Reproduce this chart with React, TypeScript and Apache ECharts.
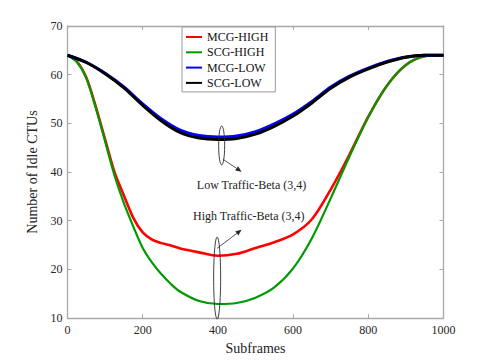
import React, { useEffect, useRef } from "react";
import * as echarts from "echarts";

// Subframe positions
const xsHigh = [0, 25, 50, 75, 100, 125, 150, 175, 200, 225, 250, 275, 300, 350, 400, 450, 500, 550, 600, 650, 700, 750, 800, 850, 900, 950, 1000];
const xsLow = [0, 50, 100, 150, 200, 250, 300, 350, 400, 450, 500, 550, 600, 650, 700, 750, 800, 850, 900, 950, 1000];

// Number of idle CTUs
const mcgHigh = [64.0, 62.7, 59.4, 53.5, 46.7, 40.0, 35.2, 30.6, 27.6, 26.1, 25.4, 24.9, 24.3, 23.5, 22.8, 23.2, 24.4, 25.6, 27.2, 30.3, 36.4, 43.6, 51.4, 57.8, 62.0, 63.8, 64.0];
const scgHigh = [64.0, 62.6, 59.3, 53.2, 46.3, 39.3, 33.6, 28.8, 24.4, 21.4, 19.0, 17.0, 15.4, 13.5, 12.9, 13.1, 14.2, 16.3, 20.2, 26.4, 34.6, 43.2, 51.3, 57.8, 62.0, 63.8, 64.0];
const mcgLow = [64.0, 62.55, 60.3, 57.5, 54.0, 50.9, 48.6, 47.5, 47.2, 47.4, 48.3, 49.9, 51.9, 54.5, 57.45, 59.7, 61.35, 62.7, 63.65, 64.0, 64.0];
const scgLow = [64.0, 62.5, 60.2, 57.3, 53.7, 50.5, 48.1, 47.0, 46.7, 46.9, 47.8, 49.4, 51.5, 54.2, 57.2, 59.5, 61.2, 62.6, 63.6, 64.0, 64.0];

const seriesNames = ["MCG-HIGH", "SCG-HIGH", "MCG-LOW", "SCG-LOW"];
const seriesColors = ["#ff0000", "#009a00", "#0000ff", "#000000"];

const lowLabel = "Low Traffic-Beta (3,4)";
const highLabel = "High Traffic-Beta (3,4)";

const FONT = "Liberation Serif";
const AX = "#a8a8a8";

const W = 485;
const H = 360;
const G = { left: 67.5, right: 41.5, top: 26, bottom: 41.5 };
const X_MIN = 0, X_MAX = 1000, Y_MIN = 10, Y_MAX = 70;

function zip(xs: number[], ys: number[]) {
  return xs.map((x, i) => [x, ys[i]]);
}

// same linear mapping the value axes use (for annotations only)
const px = (x: number) => G.left + ((x - X_MIN) / (X_MAX - X_MIN)) * (W - G.left - G.right);
const py = (v: number) => G.top + ((Y_MAX - v) / (Y_MAX - Y_MIN)) * (H - G.top - G.bottom);

export default function App() {
  const ref = useRef<HTMLDivElement>(null);
  useEffect(() => {
    if (!ref.current) return;
    const chart = echarts.init(ref.current, null, { renderer: "svg" });
    const axisCommon = {
      axisLine: { show: true, onZero: false, lineStyle: { color: AX, width: 1.3 } },
      axisTick: { show: true, inside: true, length: 4, lineStyle: { color: AX, width: 1 } },
      splitLine: { show: false },
    };
    const tickLabel = {
      fontFamily: FONT,
      fontSize: 12,
      color: "#262626",
      formatter: (v: number) => String(v),
    };
    const datasets = [zip(xsHigh, mcgHigh), zip(xsHigh, scgHigh), zip(xsLow, mcgLow), zip(xsLow, scgLow)];
    const widths = [2.6, 2.2, 3, 3];

    const ink = "#2a2a2a";
    const ellipse = (cx: number, cy: number, hy: number, rx: number) => ({
      type: "ellipse",
      shape: { cx: px(cx), cy: py(cy), rx, ry: Math.abs(py(cy) - py(cy + hy)) },
      style: { fill: "none", stroke: ink, lineWidth: 0.9 },
      z: 100,
    });
    const arrow = (x1: number, y1: number, x2: number, y2: number) => {
      const a = [px(x1), py(y1)];
      const b = [px(x2), py(y2)];
      const ang = Math.atan2(b[1] - a[1], b[0] - a[0]);
      const L = 6;
      const HW = 2.6;
      const bx = b[0] - L * Math.cos(ang);
      const by = b[1] - L * Math.sin(ang);
      const nx = -Math.sin(ang) * HW;
      const ny = Math.cos(ang) * HW;
      return [
        {
          type: "line",
          shape: { x1: a[0], y1: a[1], x2: bx, y2: by },
          style: { stroke: ink, lineWidth: 0.8 },
          z: 100,
        },
        {
          type: "polygon",
          shape: { points: [[b[0], b[1]], [bx + nx, by + ny], [bx - nx, by - ny]] },
          style: { fill: ink },
          z: 100,
        },
      ];
    };
    const label = (x: number, y: number, text: string) => ({
      type: "text",
      x: px(x),
      y: py(y),
      style: { text, fontFamily: FONT, fontSize: 12, fill: "#222", verticalAlign: "middle", align: "left" },
      z: 100,
    });

    chart.setOption({
      animation: false,
      backgroundColor: "#ffffff",
      textStyle: { fontFamily: FONT },
      grid: { ...G, containLabel: false },
      legend: {
        data: seriesNames,
        orient: "vertical",
        left: 182,
        top: 27,
        icon: "rect",
        itemWidth: 16,
        itemHeight: 2,
        itemGap: 3.3,
        padding: [4, 7, 3, 4],
        borderColor: "#9a9a9a",
        borderWidth: 1,
        backgroundColor: "#ffffff",
        textStyle: { fontFamily: FONT, fontSize: 12, color: "#111", lineHeight: 12 },
      },
      xAxis: [
        {
          type: "value",
          min: X_MIN,
          max: X_MAX,
          interval: 200,
          position: "bottom",
          name: "Subframes",
          nameLocation: "middle",
          nameGap: 21,
          nameTextStyle: { fontFamily: FONT, fontSize: 14, color: "#222" },
          axisLabel: { ...tickLabel, margin: 6 },
          ...axisCommon,
        },
        {
          type: "value",
          min: X_MIN,
          max: X_MAX,
          interval: 200,
          position: "top",
          axisLabel: { show: false },
          ...axisCommon,
        },
      ],
      yAxis: [
        {
          type: "value",
          min: Y_MIN,
          max: Y_MAX,
          interval: 10,
          position: "left",
          name: "Number of Idle CTUs",
          nameLocation: "middle",
          nameGap: 19,
          nameTextStyle: { fontFamily: FONT, fontSize: 14, color: "#222" },
          axisLabel: { ...tickLabel, margin: 5 },
          ...axisCommon,
        },
        {
          type: "value",
          min: Y_MIN,
          max: Y_MAX,
          interval: 10,
          position: "right",
          axisLabel: { show: false },
          ...axisCommon,
        },
      ],
      series: seriesNames.map((name, i) => ({
        name,
        type: "line",
        data: datasets[i],
        showSymbol: false,
        symbol: "none",
        smooth: 0.3,
        color: seriesColors[i],
        lineStyle: { color: seriesColors[i], width: widths[i] },
        z: 2 + i,
      })),
      graphic: [
        ellipse(410, 45.5, 4.0, 3),
        ellipse(398, 18.3, 8.4, 3.5),
        ...arrow(414, 42.65, 463, 40.1),
        ...arrow(398, 24.4, 463, 28.2),
        label(344, 37.4, lowLabel),
        label(334, 31.0, highLabel),
      ],
    });

    return () => chart.dispose();
  }, []);
  return (
    <div
      ref={ref}
      style={{ position: "fixed", left: 0, top: 0, width: W, height: H, background: "#fff" }}
    />
  );
}
